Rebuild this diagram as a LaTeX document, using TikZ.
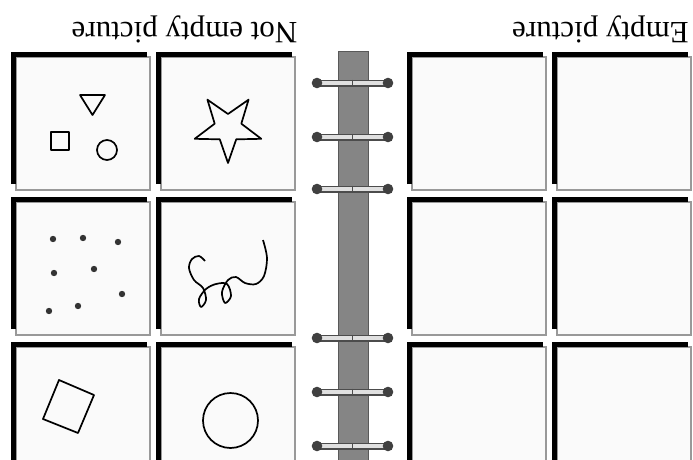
\documentclass[tikz,border=0pt]{standalone}
\usepackage{fontspec}
\setmainfont{Liberation Serif}
\usetikzlibrary{calc}

\tikzset{
  card/.style={draw=black!40, fill=black!2, line width=1.2},
  cardedge/.style={draw=black, line width=5, line cap=butt},
  sketch/.style={draw=black, line width=1.7, line join=round},
  dot/.style={fill=black!80},
  spine/.style={fill=black!48, draw=black!65, line width=1},
  ringout/.style={draw=black!70, line width=7, line cap=butt},
  ringin/.style={draw=black!12, line width=3.4, line cap=butt},
  ringend/.style={fill=black!75},
  titletext/.style={font=\fontsize{31}{36}\selectfont, rotate=180, anchor=base, inner sep=0pt}
}

\begin{document}
\begin{tikzpicture}[x=1pt,y=-1pt]
  \useasboundingbox (0,0) rectangle (693,460);
  \clip (0,0) rectangle (693,460);

  %% titles (upside down)
  \node[titletext] (notempty) at (184.5,23) {Not empty picture};
  \node[titletext] (empty) at (600.5,23) {Empty picture};

  %% cards
  \foreach \cx in {16,161,412,557}  % columns
  \foreach \cy in {57,202,347}{     % rows
    \draw[card] (\cx,\cy) rectangle ++(134,133);
    \draw[cardedge] (\cx-2.5,\cy+127) -- (\cx-2.5,\cy-2.5) -- (\cx+131,\cy-2.5);
  }

  %% spine and rings
  \draw[spine] (338,52) rectangle (368,470);
  \foreach \ry in {83,137,189,338,392,446}{ % rings
    \draw[ringout] (316,\ry) -- (389,\ry);
    \draw[ringin] (318,\ry) -- (387,\ry);
    \fill[ringend] (317,\ry) circle (5.3) (388,\ry) circle (5.3);
    \draw[black!70, line width=1] (352,\ry-3.5) -- (352,\ry+3.5);
  }

  %% triangle, square, circle
  \draw[sketch] (80,95) -- (105,95) -- (92.5,115) -- cycle;
  \draw[sketch] (51,132) rectangle (69,150);
  \draw[sketch] (107,150) circle (10);

  %% star
  \coordinate (starc) at (228,128);
  \draw[sketch] ($(starc)+(90:35)$)
    \foreach \a in {0,1,...,4}{
      -- ($(starc)+({126+72*\a}:14)$) -- ($(starc)+({162+72*\a}:35)$)
    } -- cycle;

  %% dots
  \foreach \p in {(53,239),(83,238),(118,242),(54,273),(94,269),(122,294),(49,311),(78,306)}
    \fill[dot] \p circle (3.2);

  %% squiggle
  \draw[sketch] plot[smooth, tension=0.55] coordinates {
    (263,240) (267,258) (264,276) (256,284) (245,283) (236,277) (228,280)
    (222,292) (225,303) (231,296) (227,284) (216,284) (206,289) (199,299)
    (201,307) (206,300) (203,288) (194,280) (189,268) (192,259) (199,256) (205,261)};

  %% tilted square, circle
  \draw[sketch] (59,380) -- (94,395) -- (78,433) -- (43,419) -- cycle;
  \draw[sketch] (230.5,420.5) circle (27.5);
\end{tikzpicture}
\end{document}
